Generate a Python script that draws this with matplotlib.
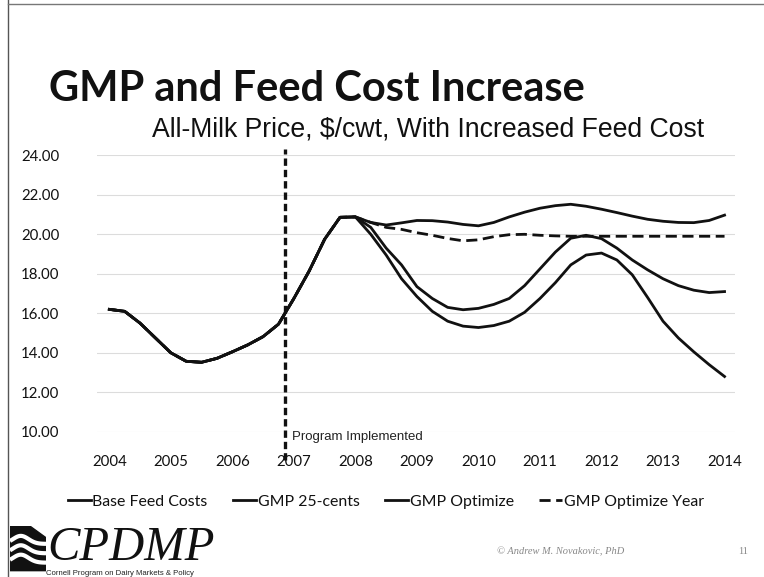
import numpy as np
import matplotlib
matplotlib.use("Agg")
import matplotlib.pyplot as plt
from matplotlib.lines import Line2D
from matplotlib.patches import Polygon

# Quarterly time axis, 2004 to 2014
quarters = [2004 + 0.25 * i for i in range(41)]

# Shared history up to the start of 2008
history = [16.2, 16.1, 15.5, 14.75, 14.0, 13.57, 13.52, 13.72, 14.05, 14.4,
           14.82, 15.45, 16.75, 18.15, 19.75, 20.86, 20.88]

base_feed_costs = history + [20.0, 18.95, 17.75, 16.85, 16.1, 15.6, 15.35, 15.28,
                             15.38, 15.6, 16.05, 16.75, 17.55, 18.45, 18.95, 19.05,
                             18.7, 17.95, 16.8, 15.6, 14.75, 14.05, 13.4, 12.8]
gmp_25_cents = history + [20.35, 19.3, 18.45, 17.35, 16.75, 16.3, 16.18, 16.25,
                          16.45, 16.75, 17.4, 18.25, 19.1, 19.8, 19.95, 19.78,
                          19.3, 18.7, 18.2, 17.75, 17.4, 17.17, 17.05, 17.1]
gmp_optimize = history + [20.6, 20.47, 20.58, 20.7, 20.69, 20.62, 20.5, 20.43,
                          20.6, 20.88, 21.12, 21.32, 21.45, 21.52, 21.42, 21.27,
                          21.1, 20.92, 20.76, 20.66, 20.6, 20.59, 20.7, 20.97]
gmp_optimize_year = history + [20.6, 20.35, 20.25, 20.08, 19.95, 19.79, 19.67, 19.72,
                               19.88, 19.98, 20.0, 19.95, 19.92, 19.9, 19.9, 19.9,
                               19.9, 19.9, 19.9, 19.9, 19.9, 19.9, 19.9, 19.9]

series_names = ["Base Feed Costs", "GMP 25-cents", "GMP Optimize", "GMP Optimize Year"]
year_ticks = list(range(2004, 2015))
price_ticks = [10, 12, 14, 16, 18, 20, 22, 24]
program_start = 2006.86

W, H = 764, 577
fig = plt.figure(figsize=(W / 100, H / 100), dpi=100)
fig.patch.set_facecolor("white")

def fx(px):
    return px / W

def fy(py):
    return 1 - py / H

ax = fig.add_axes([fx(97), fy(431.8), fx(735) - fx(97), fy(155.3) - fy(431.8)])
ax.set_xlim(2003.8, 2014.17)
ax.set_ylim(10, 24)
for s in ax.spines.values():
    s.set_visible(False)
ax.set_yticks(price_ticks)
ax.set_yticklabels([f"{v:.2f}" for v in price_ticks])
ax.set_xticks(year_ticks)
ax.set_xticklabels([str(y) for y in year_ticks])
ax.tick_params(axis="both", length=0, labelsize=10.8, colors="#111111")
ax.tick_params(axis="x", pad=17)
ax.tick_params(axis="y", pad=27)
for lab in ax.get_xticklabels() + ax.get_yticklabels():
    lab.set_family("Lato")
ax.grid(axis="y", color="#dcdcdc", linewidth=0.8)
ax.set_axisbelow(True)

lw = 2.0
ink = "#111111"
ax.plot(quarters, base_feed_costs, color=ink, lw=lw, label=series_names[0])
ax.plot(quarters, gmp_25_cents, color=ink, lw=lw, label=series_names[1])
ax.plot(quarters, gmp_optimize, color=ink, lw=lw, label=series_names[2])
ax.plot(quarters, gmp_optimize_year, color=ink, lw=lw, ls=(0, (4, 2)),
        label=series_names[3])

# Program start marker
ax.plot([program_start, program_start], [8.55, 24.3], color=ink, lw=2.4,
        ls=(0, (2.2, 1.2)), clip_on=False)
ax.text(program_start + 0.11, 9.75, "Program Implemented", fontsize=9.5,
        family="Liberation Sans", color="#222222", va="center", ha="left")

# Titles
fig.text(fx(49), fy(89), "GMP and Feed Cost Increase", fontsize=30,
         fontweight="bold", family="Lato", color="#111111",
         va="center", ha="left")
fig.text(fx(428), fy(130), "All-Milk Price, $/cwt, With Increased Feed Cost",
         fontsize=19.2, family="Liberation Sans", color="#111111",
         va="center", ha="center")

# Legend
leg = fig.legend(loc="center", bbox_to_anchor=(fx(386), fy(502)), ncol=4,
                 frameon=False, handlelength=1.45, handletextpad=0.12,
                 columnspacing=1.6, prop={"family": "Lato", "size": 11.4})
for t in leg.get_texts():
    t.set_color("#111111")

# Footer: program logo and credits
logo = fig.add_axes([fx(10), fy(573), fx(46) - fx(10), fy(526) - fy(573)])
logo.set_xlim(0, 1)
logo.set_ylim(0, 1)
logo.axis("off")
logo.add_patch(Polygon([[0, 0.05], [0, 1], [0.55, 1], [1, 0.75], [1, 0.05]],
                       closed=True, color="#111111"))
for yy in [0.62, 0.42, 0.22]:
    xs = np.linspace(0.0, 1.0, 30)
    ys = yy + 0.17 * np.exp(-((xs - 0.3) / 0.3) ** 2)
    logo.plot(xs, ys, color="white", lw=3.0, solid_capstyle="butt")

fig.text(fx(47), fy(560), "CPDMP", fontsize=35, style="italic",
         family="Liberation Serif", color="#111111", va="baseline", ha="left")
fig.text(fx(46), fy(573.5), "Cornell Program on Dairy Markets & Policy", fontsize=5.6,
         family="Liberation Sans", color="#222222", va="center", ha="left")
fig.text(fx(497), fy(552), "\u00a9 Andrew M. Novakovic, PhD", fontsize=7.5,
         style="italic", family="Liberation Serif", color="#888888",
         va="center", ha="left")
fig.text(fx(738), fy(552), "11", fontsize=7.5, family="Liberation Serif",
         color="#888888", va="center", ha="left")

# Page frame
fig.add_artist(Line2D([fx(8), fx(8)], [0, 1], color="#555555", lw=1.0))
fig.add_artist(Line2D([fx(8), 1], [fy(4), fy(4)], color="#777777", lw=1.0))

fig.savefig("out.png", dpi=100, facecolor="white")
